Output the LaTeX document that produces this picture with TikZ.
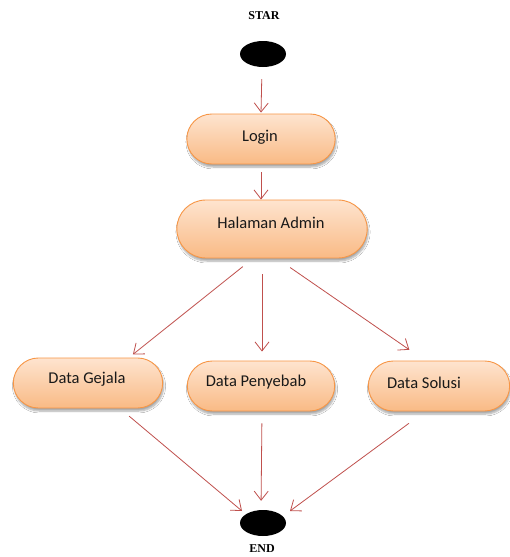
\documentclass[tikz,border=0pt]{standalone}
\usepackage{fontspec}
\setmainfont{Carlito}
\newfontfamily\labelserif{Liberation Serif}
\usetikzlibrary{shapes.geometric,shapes.misc,arrows.meta,calc,shadows.blur}
\definecolor{boxtop}{HTML}{FEE4CF}
\definecolor{boxbot}{HTML}{F9BA85}
\definecolor{boxline}{HTML}{F79646}
\definecolor{flow}{HTML}{C0504D}
\tikzset{
  act/.style={rounded rectangle, draw=boxline, line width=0.9pt,
    top color=boxtop, bottom color=boxbot, minimum height=50pt,
    blur shadow={shadow xshift=1pt, shadow yshift=-3pt,
      shadow blur steps=6, shadow opacity=35}},
  acttext/.style={font=\fontsize{16.5}{18}\selectfont, text=black!90},
  dot/.style={ellipse, fill=black, minimum width=46pt, minimum height=26pt, inner sep=0pt},
  markcap/.style={font=\labelserif\bfseries\fontsize{12}{14}\selectfont},
  flowline/.style={draw=flow, line width=0.8pt,
    -{Straight Barb[length=9pt,width=14pt,line width=0.8pt]}}
}
\begin{document}
\begin{tikzpicture}[x=1pt,y=-1pt]
  \useasboundingbox[fill=white] (0,0) rectangle (510,557);

  % start / end markers with their captions
  \node[markcap] (startlbl) at (264,16) {STAR};
  \node[dot] (start) at (263,54) {};
  \node[dot] (finish) at (263,523) {};
  \node[markcap] (endlbl) at (262,549) {END};

  % activities
  \node[act, minimum width=155pt,
    label={[acttext, xshift=-1pt, yshift=2pt]center:Login}] (login) at (261,139) {};
  \node[act, minimum width=197pt, minimum height=58pt,
    label={[acttext, xshift=-1pt, yshift=6pt]center:Halaman Admin}] (admin) at (272,229) {};
  \node[act, minimum width=156pt,
    label={[acttext, xshift=-1pt, yshift=4pt]center:Data Gejala}] (gejala) at (88,383) {};
  \node[act, minimum width=154pt,
    label={[acttext, xshift=-5pt, yshift=4pt]center:Data Penyebab}] (penyebab) at (261,386) {};
  \node[act, minimum width=148pt,
    label={[acttext, xshift=-15pt, yshift=3pt]center:Data Solusi}] (solusi) at (439,386) {};

  % control flow
  \draw[flowline, shorten <=12pt, shorten >=1pt]
    ($(start.south)+(-1,0)$) -- (login.north);
  \draw[flowline, shorten <=8pt] (login.south) -- (login.south |- admin.north);

  \draw[flowline, shorten <=13pt, shorten >=5pt]
    ($(admin.south)+(-19,0)$) -- ($(gejala.north)+(41,0)$);
  \draw[flowline, shorten <=16pt, shorten >=9pt]
    ($(admin.south)+(-10,0)$) -- ($(penyebab.north)+(1,0)$);
  \draw[flowline, shorten <=16pt, shorten >=19pt]
    ($(admin.south)+(5,0)$) -- ($(solusi.north)+(-14,0)$);

  \draw[flowline, shorten <=12pt]
    ($(gejala.south)+(32,0)$) -- ($(finish.center)+(-21,-12)$);
  \draw[flowline, shorten <=12pt, shorten >=9pt]
    ($(penyebab.south)+(1,0)$) -- (finish.north -| penyebab.south);
  \draw[flowline, shorten <=20pt]
    ($(solusi.south)+(-14,0)$) -- ($(finish.center)+(27,-12)$);
\end{tikzpicture}
\end{document}
